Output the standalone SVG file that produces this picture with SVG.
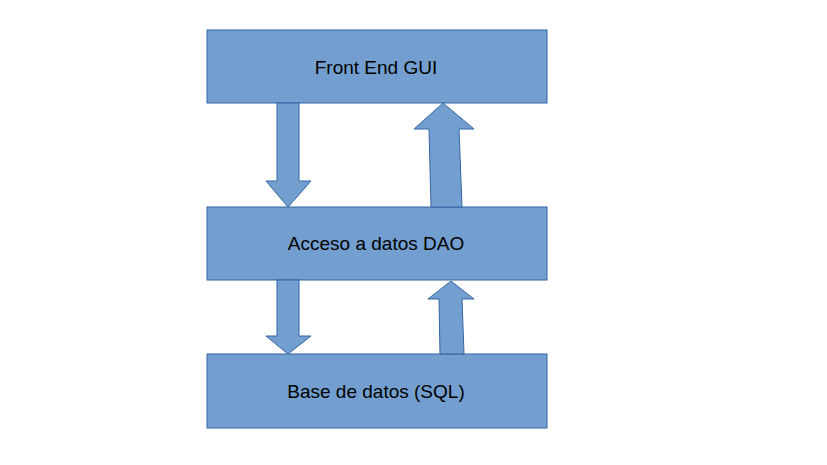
<svg xmlns="http://www.w3.org/2000/svg" width="827" height="465" viewBox="0 0 827 465">
<style>
.box{fill:#729fcf;stroke:#3465a4;stroke-width:1}
.arr{fill:#729fcf;stroke:#3465a4;stroke-width:1;stroke-linejoin:miter}
.lbl{font-family:"Liberation Sans",Arial,sans-serif;font-size:19px;fill:#000;text-anchor:middle}
</style>
<rect width="827" height="465" fill="#fff"/>
<g id="front-end">
<rect class="box" x="207" y="30" width="340" height="73"/>
<text class="lbl" x="376" y="74">Front End GUI</text>
</g>
<g id="dao">
<rect class="box" x="207" y="207" width="340" height="73"/>
<text class="lbl" x="376" y="250">Acceso a datos DAO</text>
</g>
<g id="db">
<rect class="box" x="207" y="354" width="340" height="74"/>
<text class="lbl" x="376" y="398">Base de datos (SQL)</text>
</g>
<g id="connectors">
<polygon class="arr" points="277,103 299,103 299,181 311,181 288,207 266,181 277,181"/>
<polygon class="arr" points="431,207 462,207 459,129 474,129 443,103 414,129 429,129"/>
<polygon class="arr" points="277,280 299,280 299,336 311,336 288,354 266,336 277,336"/>
<polygon class="arr" points="440,354 464,354 462,299 474,299 451,281 428,299 439,299"/>
</g>
</svg>
